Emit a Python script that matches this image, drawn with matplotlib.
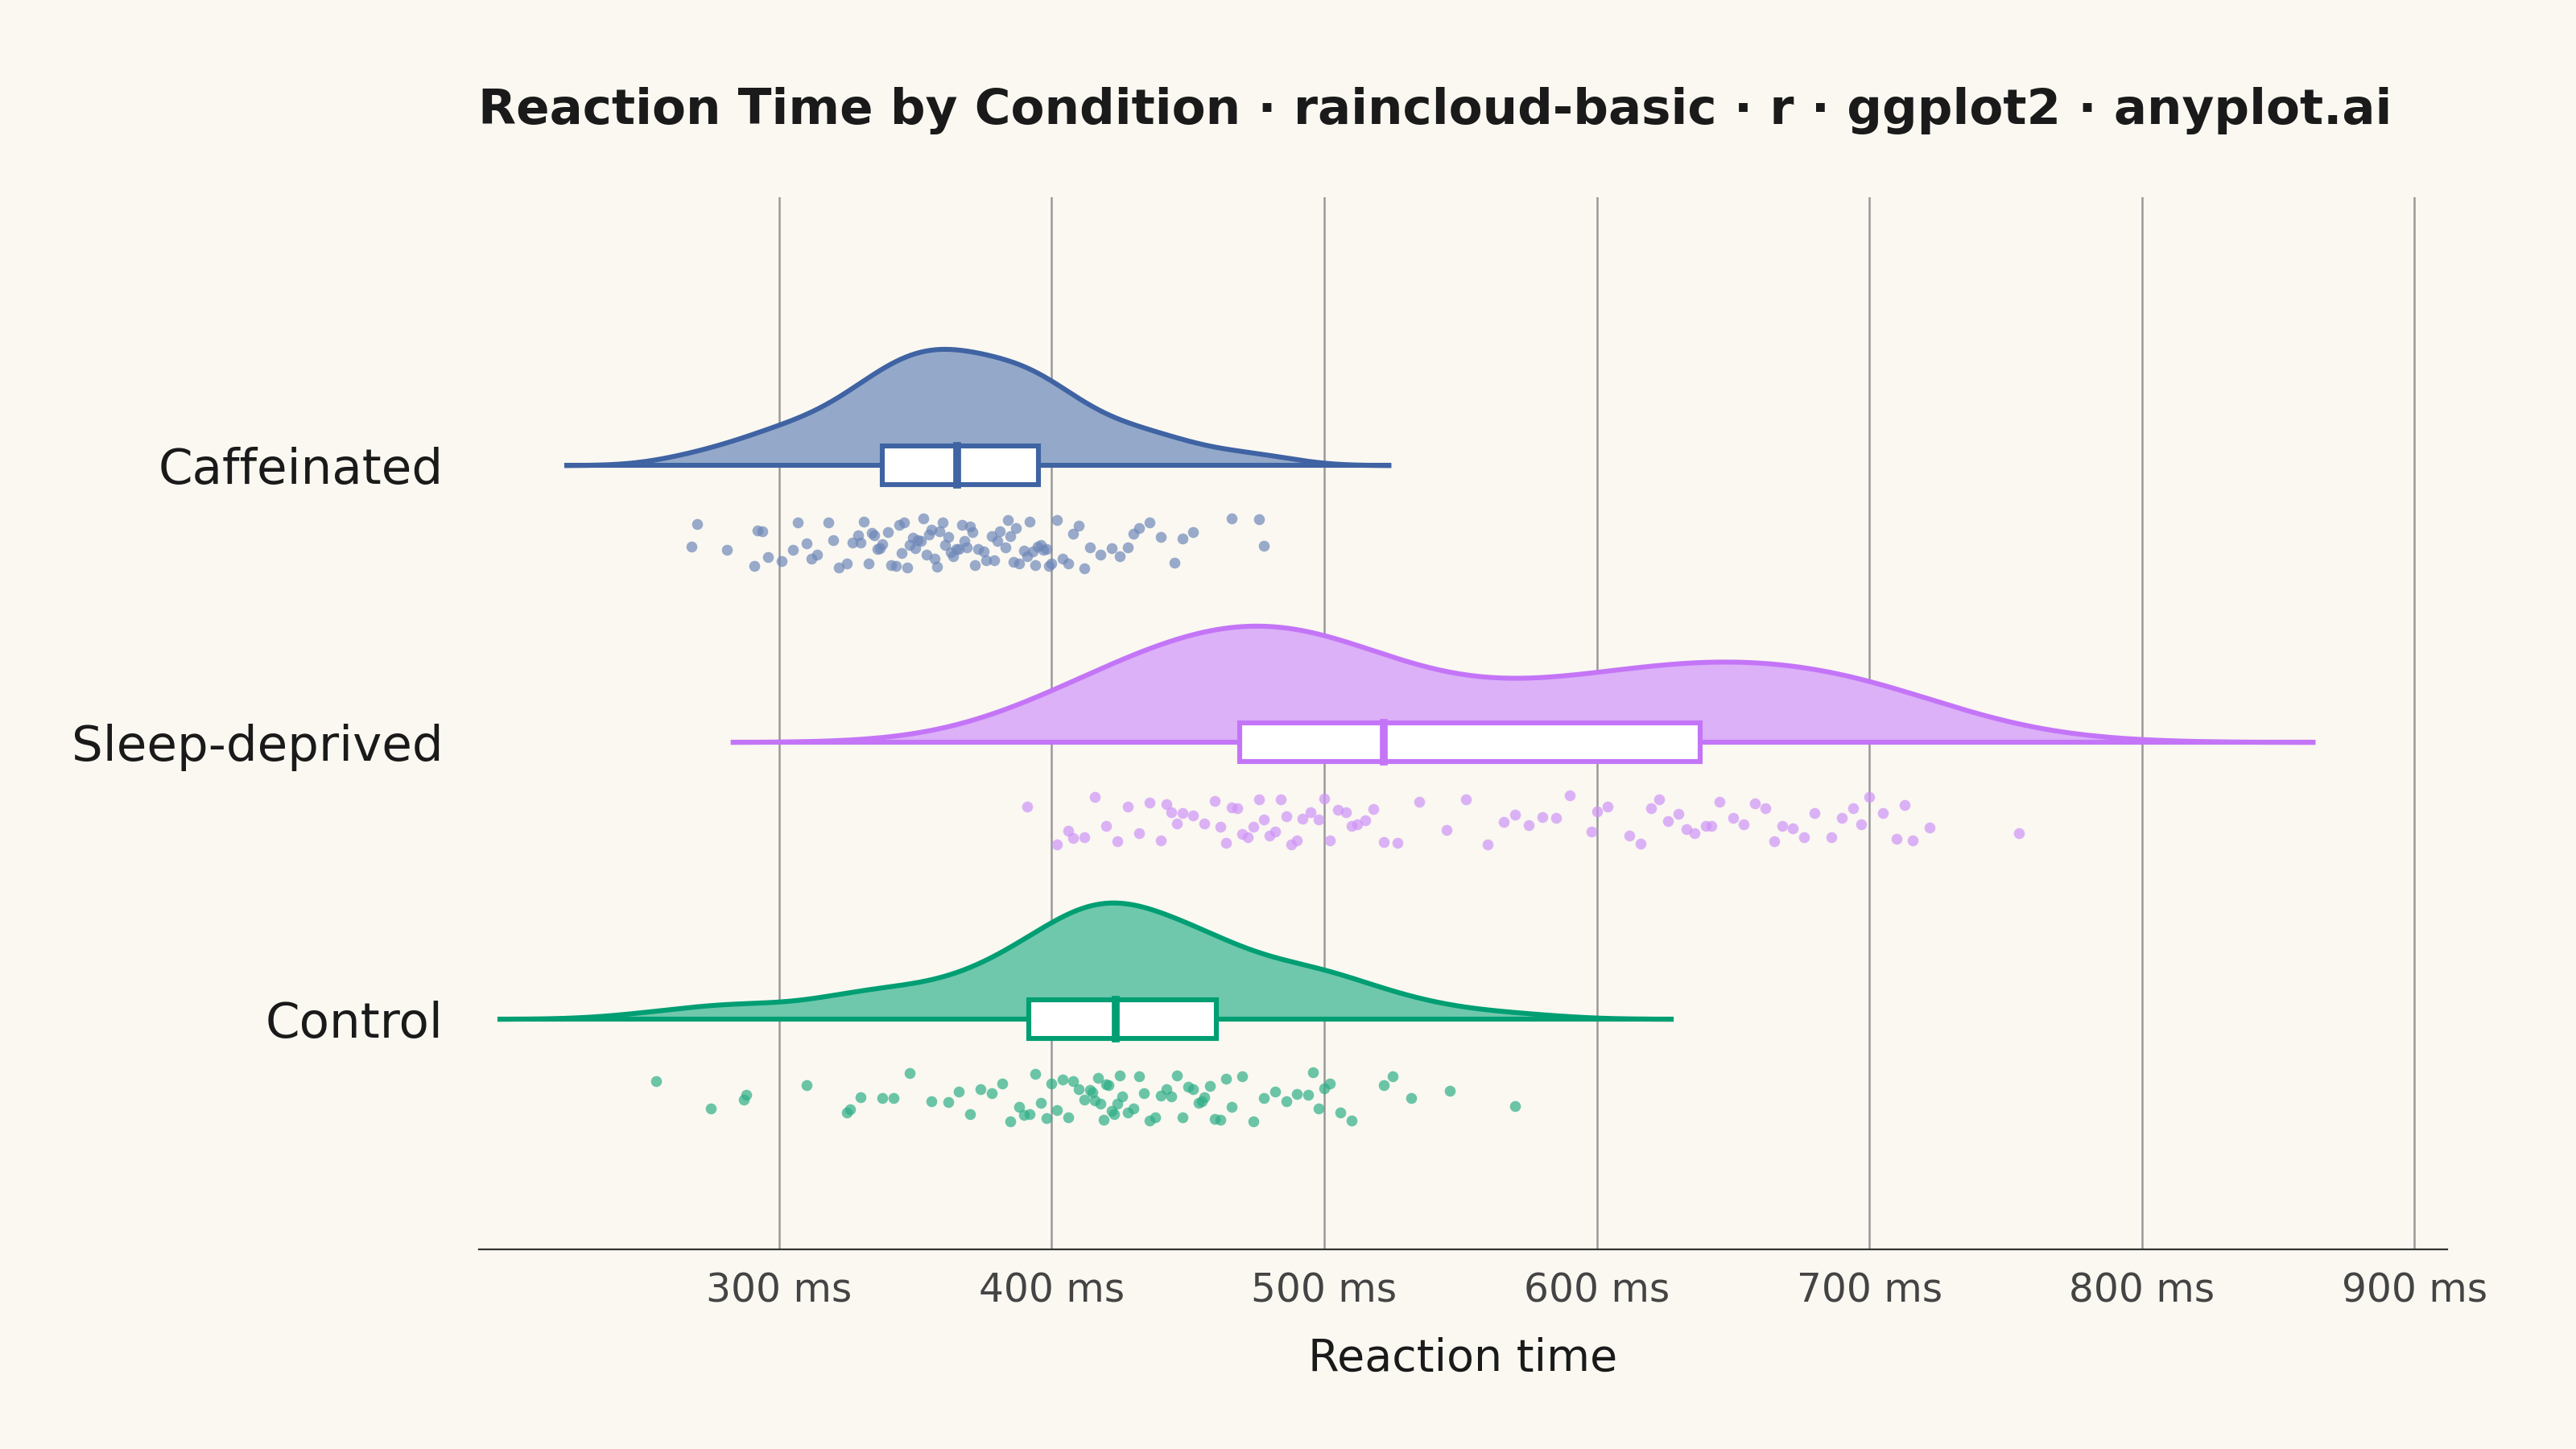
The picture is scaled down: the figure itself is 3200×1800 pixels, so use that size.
import numpy as np
import matplotlib.pyplot as plt

# reaction times (ms)
caffeinated = [268, 270, 281, 291, 292, 294, 296, 301, 305, 307, 310, 312, 314, 318, 320, 322, 325, 327,
               329, 330, 331, 333, 334, 335, 336, 337, 338, 340, 341, 343, 344, 345, 346, 347, 348, 349,
               350, 351, 352, 353, 354, 355, 356, 357, 358, 359, 360, 361, 362, 363, 364, 365, 366, 367,
               368, 369, 370, 371, 372, 373, 375, 376, 378, 379, 380, 381, 383, 384, 385, 386, 387, 388,
               390, 391, 392, 393, 394, 395, 396, 397, 398, 399, 400, 402, 404, 406, 408, 410, 412, 414,
               418, 422, 425, 428, 430, 432, 436, 440, 445, 448, 452, 466, 476, 478]
sleep_deprived = [391, 402, 406, 408, 412, 416, 420, 424, 428, 432, 436, 440, 442, 444, 446, 448, 452, 456,
                  460, 462, 464, 466, 468, 470, 472, 474, 476, 478, 480, 482, 484, 486, 488, 490, 492, 495,
                  498, 500, 502, 505, 508, 510, 512, 515, 518, 522, 527, 535, 545, 552, 560, 566, 570,
                  575, 580, 585, 590, 598, 600, 604, 612, 616, 620, 623, 626, 630, 633, 636, 640, 642, 645,
                  650, 654, 658, 662, 665, 668, 672, 676, 680, 686, 690, 694, 697, 700, 705, 710, 713, 716,
                  722, 755]
control = [255, 275, 287, 288, 310, 325, 326, 330, 338, 342, 348, 356, 362, 366, 370, 374, 378, 382,
           385, 388, 390, 392, 394, 396, 398, 400, 402, 404, 406, 408, 410, 412, 414, 415, 416, 417, 418,
           419, 420, 421, 422, 423, 424, 425, 426, 428, 430, 432, 434, 436, 438, 440, 442, 444, 446, 448,
           450, 452, 454, 455, 456, 458, 460, 462, 464, 466, 470, 474, 478, 482, 486, 490, 494, 496,
           498, 500, 502, 506, 510, 522, 525, 532, 546, 570]

labels = ["Control", "Sleep-deprived", "Caffeinated"]
groups = [control, sleep_deprived, caffeinated]
edge_colors = ["#009E73", "#C475F7", "#3F63A3"]
fill_colors = ["#6FC8AC", "#DCB1F7", "#94A9C9"]
dot_colors = ["#2FAE87", "#CF94F7", "#6F88B8"]
ticks = [300, 400, 500, 600, 700, 800, 900]

bg = "#FAF8F1"
fig = plt.figure(figsize=(16, 9), dpi=200, facecolor=bg)
ax = fig.add_axes([0.186, 0.138, 0.764, 0.726], facecolor=bg)

for i, (vals, ec, fc, dc) in enumerate(zip(groups, edge_colors, fill_colors, dot_colors)):
    y0 = i + 1
    v = np.array(vals, dtype=float)
    n = len(v)
    iqr = np.subtract(*np.percentile(v, [75, 25]))
    bw = 0.9 * min(v.std(ddof=1), iqr / 1.34) * n ** -0.2
    xs = np.linspace(v.min() - 3 * bw, v.max() + 3 * bw, 500)
    dens = np.exp(-0.5 * ((xs[:, None] - v[None, :]) / bw) ** 2).sum(axis=1)
    dens = dens / dens.max() * 0.42
    ax.fill_between(xs, y0, y0 + dens, color=fc, zorder=2)
    ax.plot(xs, y0 + dens, color=ec, lw=2.2, zorder=3)
    ax.plot([xs[0], xs[-1]], [y0, y0], color=ec, lw=2.2, zorder=3)

    q1, med, q3 = np.percentile(v, [25, 50, 75])
    ax.add_patch(plt.Rectangle((q1, y0 - 0.07), q3 - q1, 0.14, facecolor="white",
                               edgecolor=ec, lw=2.2, zorder=4))
    ax.plot([med, med], [y0 - 0.07, y0 + 0.07], color=ec, lw=3.5, zorder=5)

    # deterministic hash jitter below the baseline
    k = np.arange(n) + 17 * i
    jit = (np.sin(k * 12.9898 + 78.233) * 43758.5453) % 1.0
    ax.scatter(v, y0 - 0.19 - 0.18 * jit, s=24, color=dc, alpha=0.7, lw=0, zorder=3)

ax.set_xlim(190, 912)
ax.set_ylim(0.17, 3.97)
ax.set_xticks(ticks)
ax.set_xticklabels([f"{t} ms" for t in ticks], fontsize=17.5, color="#444444")
ax.set_yticks([1, 2, 3])
ax.set_yticklabels(labels, fontsize=22, color="#1a1a1a")
ax.tick_params(axis="x", length=0, pad=10)
ax.tick_params(axis="y", length=0, pad=16)
ax.grid(axis="x", color="#999999", lw=0.9)
ax.set_axisbelow(True)
for s in ["top", "right", "left"]:
    ax.spines[s].set_visible(False)
ax.spines["bottom"].set_color("#333333")
ax.set_xlabel("Reaction time", fontsize=20, color="#1a1a1a", labelpad=12)
fig.suptitle("Reaction Time by Condition · raincloud-basic · r · ggplot2 · anyplot.ai",
             fontsize=22, fontweight="bold", color="#1a1a1a", x=0.557, y=0.94)

fig.savefig("out.png", dpi=200, facecolor=bg)
